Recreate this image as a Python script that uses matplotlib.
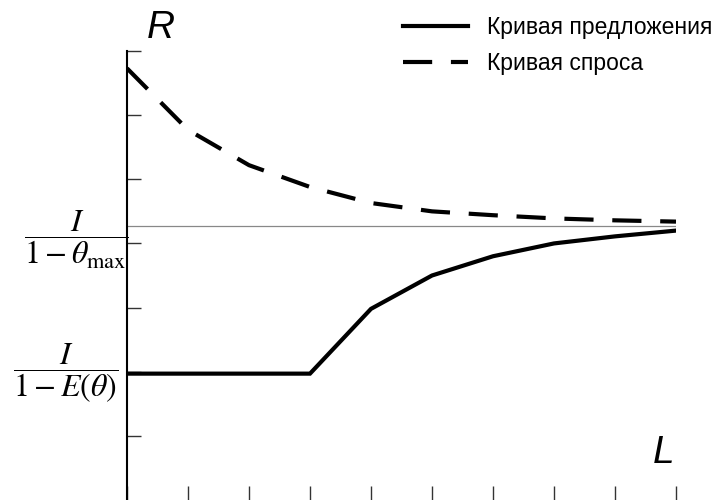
import matplotlib
matplotlib.use('Agg')
import matplotlib.pyplot as plt

plt.rcParams['font.family'] = ['Liberation Sans', 'DejaVu Sans']
plt.rcParams['mathtext.fontset'] = 'stix'

# data
L = [0, 1, 2, 3, 4, 5, 6, 7, 8, 9]
supply = [1.97, 1.97, 1.97, 1.97, 2.98, 3.50, 3.80, 4.00, 4.11, 4.20]
demand = [6.73, 5.77, 5.22, 4.88, 4.63, 4.50, 4.44, 4.39, 4.36, 4.34]
r_limit = 4.27
label_supply = 'Кривая предложения'
label_demand = 'Кривая спроса'
ylab_max = r'$\dfrac{I}{1-\theta_{\mathrm{max}}}$'
ylab_mean = r'$\dfrac{I}{1-E(\theta)}$'

fig = plt.figure(figsize=(7.17, 5), dpi=100)
ax = fig.add_axes([127 / 717, 0.0, 549 / 717, 449 / 500])

ax.plot(L, supply, color='black', lw=3, solid_joinstyle='miter', label=label_supply)
ax.plot(L, demand, color='black', lw=3, dashes=(7, 4.5), dash_capstyle='butt',
        label=label_demand)
ax.axhline(r_limit, color='#888888', lw=0.9, zorder=1)

ax.set_xlim(0, 9)
ax.set_ylim(0, 7)
ax.set_xticks(L)
ax.set_yticks(range(1, 8))
ax.tick_params(direction='in', length=10, width=1, color='#333333',
               labelbottom=False, labelleft=False)
for s in ['top', 'right', 'bottom']:
    ax.spines[s].set_visible(False)
ax.spines['left'].set_linewidth(1.5)
ax.spines['left'].set_clip_on(False)

# y labels as fractions
tr = ax.get_yaxis_transform()
ax.text(-0.092, 4.05, ylab_max, transform=tr, ha='center', va='center', fontsize=23)
ax.text(-0.112, 1.97, ylab_mean, transform=tr, ha='center', va='center', fontsize=23)

# axis names
fig.text(161 / 717, 1 - 28 / 500, 'R', fontsize=28, style='italic', ha='center', va='center')
fig.text(664 / 717, 1 - 453 / 500, 'L', fontsize=28, style='italic', ha='center', va='center')

leg = ax.legend(loc='upper left', bbox_to_anchor=(403 / 717, 1 - 16 / 500),
                bbox_transform=fig.transFigure, frameon=False, fontsize=16.5,
                handlelength=2.85, handletextpad=0.8, labelspacing=0.55,
                borderpad=0, borderaxespad=0)

fig.savefig('out.png', dpi=100)
